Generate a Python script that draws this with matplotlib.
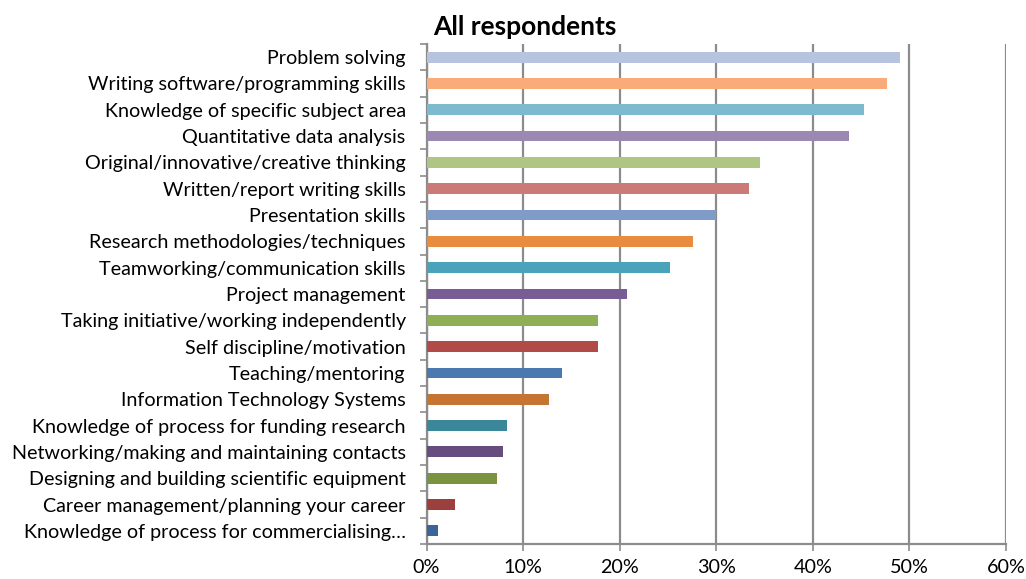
import matplotlib
matplotlib.use("Agg")
import matplotlib.pyplot as plt
import numpy as np
from matplotlib.ticker import FixedLocator, PercentFormatter

skills = [
    "Problem solving",
    "Writing software/programming skills",
    "Knowledge of specific subject area",
    "Quantitative data analysis",
    "Original/innovative/creative thinking",
    "Written/report writing skills",
    "Presentation skills",
    "Research methodologies/techniques",
    "Teamworking/communication skills",
    "Project management",
    "Taking initiative/working independently",
    "Self discipline/motivation",
    "Teaching/mentoring",
    "Information Technology Systems",
    "Knowledge of process for funding research",
    "Networking/making and maintaining contacts",
    "Designing and building scientific equipment",
    "Career management/planning your career",
    "Knowledge of process for commercialising\u2026",
]
share_pct = [49.0, 47.7, 45.3, 43.7, 34.5, 33.4, 30.0, 27.6, 25.2, 20.8,
             17.8, 17.8, 14.0, 12.7, 8.3, 7.9, 7.3, 2.9, 1.2]
bar_colors = ["#B7C4DF", "#F9AB7A", "#7CBAD0", "#9B89B4", "#AEC584", "#CC7A78",
              "#7F9BC8", "#E98C40", "#48A3BB", "#775C96", "#8FAF55", "#B14B48",
              "#4A79B0", "#C47433", "#3A8799", "#654D7E", "#7A9341", "#9C403D",
              "#3B659A"]
x_ticks = [0, 10, 20, 30, 40, 50, 60]

plt.rcParams['font.family'] = ['Lato', 'DejaVu Sans']

fig = plt.figure(figsize=(10.26, 5.79), dpi=100)
ax = fig.add_axes([426.5 / 1026, 1 - 544 / 579, (1006 - 426.5) / 1026, (544 - 44) / 579])

n = len(skills)
ypos = np.arange(n)
ax.barh(ypos, share_pct, height=0.41, color=bar_colors, zorder=3)
ax.set_ylim(n - 0.5, -0.5)
ax.set_xlim(0, 60)

grid_c = "#8C8C8C"
ax.set_xticks(x_ticks)
ax.xaxis.set_major_formatter(PercentFormatter(decimals=0))
ax.grid(axis="x", color=grid_c, linewidth=1.6, zorder=0)
ax.set_yticks(ypos)
ax.set_yticklabels(skills)
ax.yaxis.set_minor_locator(FixedLocator(np.arange(-0.5, n, 1.0)))
ax.tick_params(axis="y", which="major", length=0, pad=15, labelsize=14.2, labelcolor="#000000")
ax.tick_params(axis="y", which="minor", length=5, width=1.2, color=grid_c)
ax.tick_params(axis="x", which="major", length=5, width=1.2, color=grid_c,
               labelsize=14.2, pad=6)

for side in ["top", "right"]:
    ax.spines[side].set_visible(False)
for side in ["left", "bottom"]:
    ax.spines[side].set_color(grid_c)
    ax.spines[side].set_linewidth(1.6)

fig.text(525 / 1026, 1 - 27 / 579, "All respondents", ha="center", va="center",
         fontsize=19, fontweight="bold")

fig.savefig("out.png", dpi=100)
